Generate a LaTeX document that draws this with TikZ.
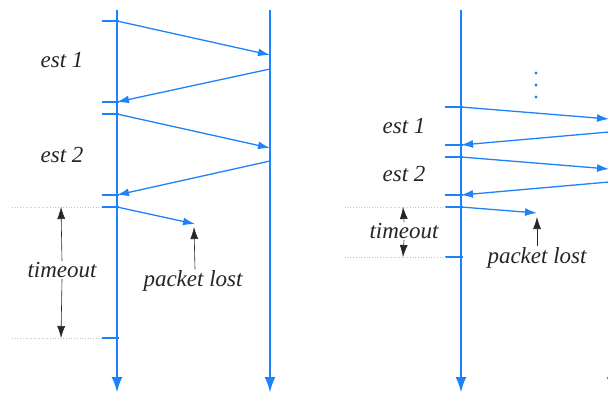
\documentclass[tikz,border=0pt]{standalone}
\usepackage{fontspec}
\setmainfont{Liberation Serif}
\usetikzlibrary{arrows.meta}
\definecolor{netblue}{RGB}{30,130,250}

\begin{document}
\begin{tikzpicture}[x=1pt,y=-1pt,>={Latex[length=12pt,width=8pt]},
  every node/.style={font=\fontsize{23}{26}\selectfont\itshape,inner sep=1pt,text=black!85},
  timeline/.style={netblue,line width=2.8pt,-{Latex[length=16pt,width=11pt]}},
  msg/.style={netblue,line width=1.3pt,->},
  tickmark/.style={netblue,line width=2pt},
  guide/.style={gray!45,dotted,line width=0.7pt},
  note/.style={black!85,line width=0.6pt,-{Latex[length=12pt,width=8pt]}}]
\useasboundingbox (0,0) rectangle (608,394);

% left: sender and receiver
\draw[timeline] (117,10) -- (117,393);
\draw[timeline] (270,10) -- (270,393);
\coordinate (s1) at (117,21);
\coordinate (s2) at (117,102);
\coordinate (s3) at (117,114);
\coordinate (s4) at (117,195);
\coordinate (s5) at (117,207);
\coordinate (s6) at (117,338);
\coordinate (r1) at (270,55);
\coordinate (r2) at (270,69);
\coordinate (r3) at (270,148);
\coordinate (r4) at (270,161);
\coordinate (drop) at (195,224);
\draw[tickmark] (102,21)--(119,21);
\draw[tickmark] (102,102)--(119,102);
\draw[tickmark] (102,114)--(119,114);
\draw[tickmark] (102,195)--(119,195);
\draw[tickmark] (102,207)--(119,207);
\draw[tickmark] (102,338)--(119,338);
\draw[msg] (s1)--(r1);
\draw[msg] (r2)--(s2);
\draw[msg] (s3)--(r3);
\draw[msg] (r4)--(s4);
\draw[msg] (s5)--(drop);
\draw[guide] (12,207)--(102,207);
\draw[guide] (12,338)--(102,338);
\node (est1) at (62,60) {est 1};
\node (est2) at (62,155) {est 2};
\node (tout) at (62,270) {timeout};
\node (lost) at (193,281) {packet lost};
\draw[note] (tout.north)--(61,207);
\draw[note] (tout.south)--(61,338);
\draw[note] (lost.north-|drop)--(194,227);

% right: sender, receiver cut off at the edge
\draw[timeline] (461,10) -- (461,393);
\draw[timeline] (612,10) -- (612,393);
\coordinate (t1) at (461,107);
\coordinate (t2) at (461,145);
\coordinate (t3) at (461,157);
\coordinate (t4) at (461,195);
\coordinate (t5) at (461,207);
\coordinate (t6) at (461,257);
\coordinate (q1) at (609,119);
\coordinate (q2) at (609,132);
\coordinate (q3) at (609,169);
\coordinate (q4) at (609,182);
\coordinate (drop2) at (537,213);
\draw[tickmark] (445,107)--(463,107);
\draw[tickmark] (445,145)--(463,145);
\draw[tickmark] (445,157)--(463,157);
\draw[tickmark] (445,195)--(463,195);
\draw[tickmark] (445,207)--(463,207);
\draw[tickmark] (445,257)--(463,257);
\draw[msg] (t1)--(q1);
\draw[msg] (q2)--(t2);
\draw[msg] (t3)--(q3);
\draw[msg] (q4)--(t4);
\draw[msg] (t5)--(drop2);
\fill[netblue] (536,73) circle (1.7) (536,85) circle (1.7) (536,97) circle (1.7);
\draw[guide] (345,207)--(445,207);
\draw[guide] (345,257)--(445,257);
\node (est3) at (404,126) {est 1};
\node (est4) at (404,174) {est 2};
\node (tout2) at (404,231) {timeout};
\node (lost2) at (537,258) {packet lost};
\draw[note] (tout2.north)--(403,207);
\draw[note] (tout2.south)--(403,257);
\draw[note] (lost2.north-|drop2)--(537,217);
\end{tikzpicture}
\end{document}
